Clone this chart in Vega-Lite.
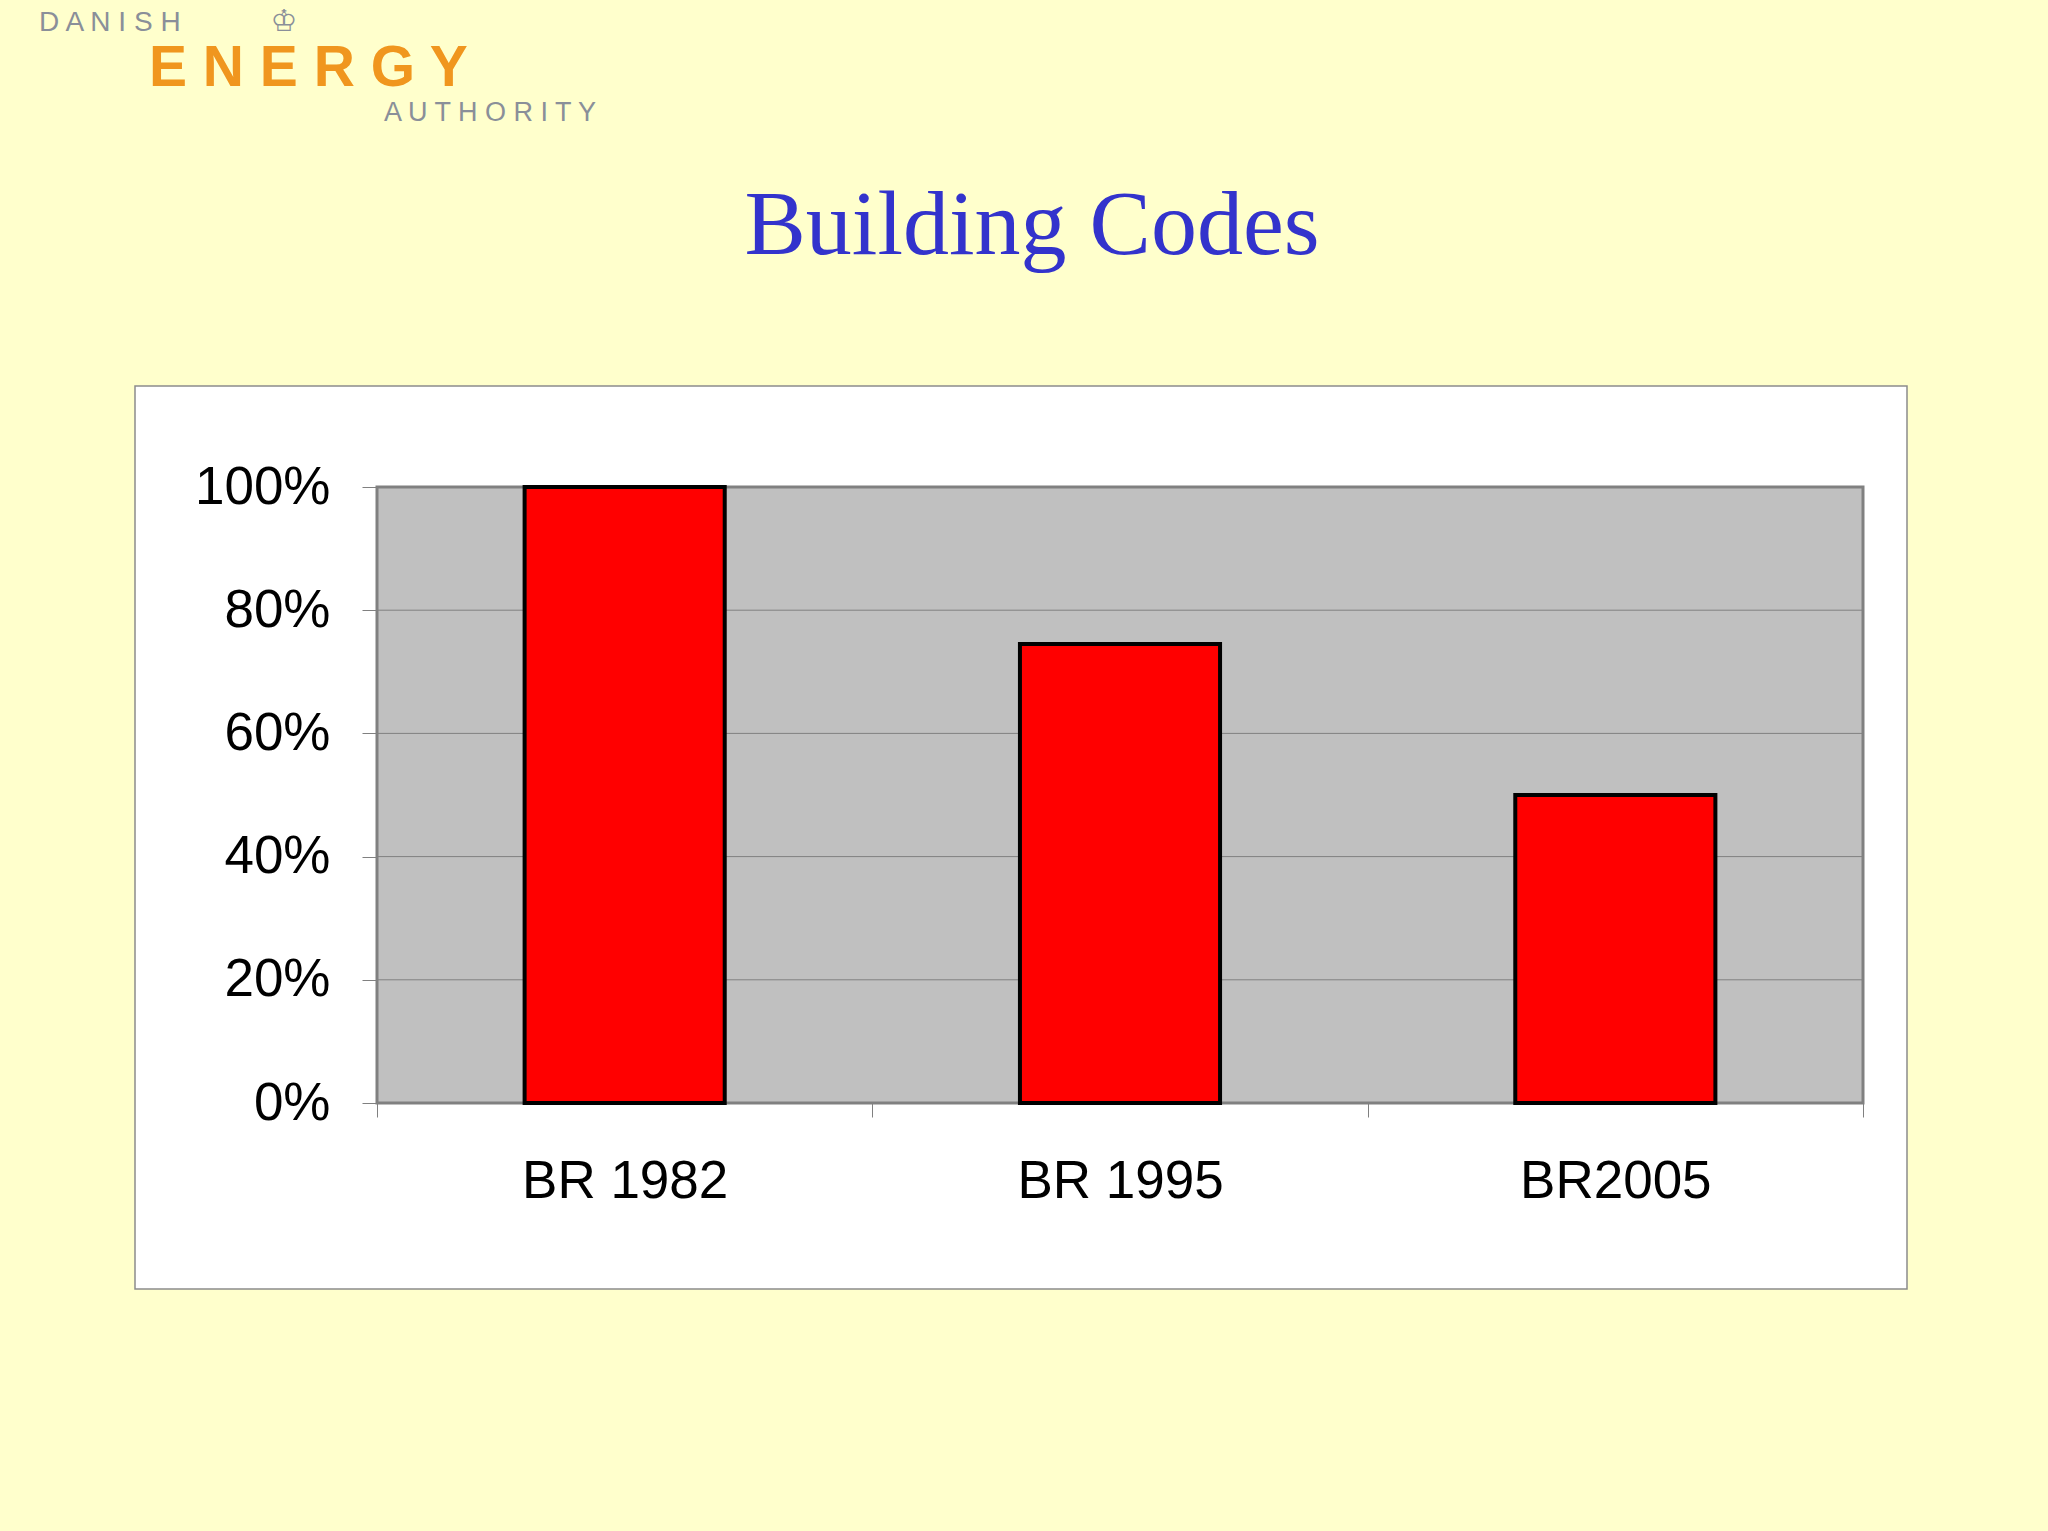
{
  "$schema": "https://vega.github.io/schema/vega-lite/v6.json",
  "width": 1486,
  "height": 616,
  "autosize": {"type": "none"},
  "padding": {"left": 377, "top": 487, "right": 185, "bottom": 428},
  "background": "#ffffcc",
  "config": {"view": {"stroke": null}, "font": "Liberation Sans"},
  "title": {
    "text": "Building Codes",
    "font": "Liberation Serif",
    "fontSize": 92,
    "fontWeight": "normal",
    "color": "#3333cc",
    "anchor": "middle",
    "frame": "group",
    "dx": -88,
    "baseline": "alphabetic",
    "offset": -339
  },
  "layer": [
    {
      "data": {"values": [{}]},
      "mark": {"type": "rect", "fill": "#ffffff", "stroke": "#8c8c8c", "strokeWidth": 1.5},
      "encoding": {"x": {"value": -242}, "x2": {"value": 1530}, "y": {"value": -101}, "y2": {"value": 802}}
    },
    {
      "data": {"values": [{}]},
      "mark": {"type": "rect", "fill": "#c0c0c0", "stroke": "#808080", "strokeWidth": 3},
      "encoding": {"x": {"value": 0}, "x2": {"value": 1486}, "y": {"value": 0}, "y2": {"value": 616}}
    },
    {
      "data": {"values": [{"value": 0.2}, {"value": 0.4}, {"value": 0.6}, {"value": 0.8}]},
      "mark": {"type": "rule", "color": "#808080", "strokeWidth": 1},
      "encoding": {
        "y": {"field": "value", "type": "quantitative", "scale": {"domain": [0, 1], "nice": false}}
      }
    },
    {
      "data": {"values": [
        {"code": "BR 1982", "value": 1.0},
        {"code": "BR 1995", "value": 0.745},
        {"code": "BR2005", "value": 0.5}
      ]},
      "mark": {"type": "bar", "color": "#ff0000", "stroke": "#000000", "strokeWidth": 4, "width": {"band": 0.404}},
      "encoding": {
        "x": {
          "field": "code", "type": "nominal", "sort": null,
          "scale": {"paddingInner": 0, "paddingOuter": 0},
          "axis": {
            "title": null, "labelAngle": 0, "labelFontSize": 53, "labelColor": "#000000",
            "labelFont": "Liberation Sans", "labelPadding": 38, "labelLimit": 0, "tickBand": "extent",
            "tickSize": 14, "tickColor": "#808080", "tickWidth": 1, "domain": false, "grid": false, "zindex": 1
          }
        },
        "y": {
          "field": "value", "type": "quantitative",
          "scale": {"domain": [0, 1], "nice": false},
          "axis": {
            "title": null, "values": [0, 0.2, 0.4, 0.6, 0.8, 1], "format": ".0%",
            "labelFontSize": 53, "labelColor": "#000000", "labelFont": "Liberation Sans", "labelLimit": 0,
            "labelPadding": 32, "tickSize": 15, "tickColor": "#808080", "tickWidth": 1,
            "domain": false, "grid": false, "zindex": 1
          }
        }
      }
    },
    {
      "data": {"values": [{}]},
      "mark": {"type": "text", "text": "D A N I S H", "font": "Liberation Sans", "fontSize": 28, "color": "#8a8f99", "align": "left", "baseline": "alphabetic"},
      "encoding": {"x": {"value": -338}, "y": {"value": -456}}
    },
    {
      "data": {"values": [{}]},
      "mark": {"type": "text", "text": "♔", "font": "DejaVu Sans", "fontSize": 30, "color": "#8a8f99", "align": "center", "baseline": "alphabetic"},
      "encoding": {"x": {"value": -93}, "y": {"value": -456}}
    },
    {
      "data": {"values": [{}]},
      "mark": {"type": "text", "text": "E N E R G Y", "font": "Liberation Sans", "fontSize": 57, "fontWeight": "bold", "color": "#f0961e", "align": "left", "baseline": "alphabetic"},
      "encoding": {"x": {"value": -228}, "y": {"value": -401}}
    },
    {
      "data": {"values": [{}]},
      "mark": {"type": "text", "text": "A U T H O R I T Y", "font": "Liberation Sans", "fontSize": 27, "color": "#8a8f99", "align": "left", "baseline": "alphabetic"},
      "encoding": {"x": {"value": 7}, "y": {"value": -366}}
    }
  ]
}
